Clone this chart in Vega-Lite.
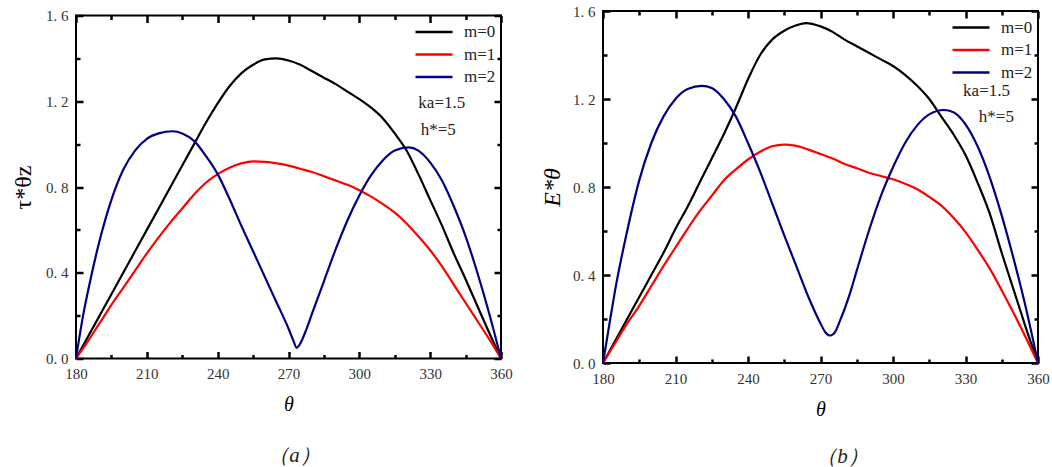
{
  "$schema": "https://vega.github.io/schema/vega-lite/v6.json",
  "background": "white",
  "padding": {"left": 10, "top": 3, "right": 5, "bottom": 0},
  "bounds": "flush",
  "center": true,
  "spacing": 102,
  "config": {
    "view": {"stroke": "black", "strokeWidth": 2},
    "axis": {
      "grid": false,
      "domain": false,
      "ticks": true,
      "zindex": 1,
      "tickColor": "#000000",
      "tickWidth": 2.5,
      "tickOpacity": 1,
      "labelFlush": false,
      "labelFont": "Times New Roman, Liberation Serif, DejaVu Serif, serif",
      "labelFontSize": 15,
      "labelColor": "#333333",
      "titleFont": "Times New Roman, Liberation Serif, DejaVu Serif, serif",
      "titleFontWeight": "normal",
      "titleColor": "black"
    },
    "legend": {
      "orient": "top-right",
      "offset": 5,
      "padding": 0,
      "symbolType": "M-1,0L2.7,0",
      "symbolSize": 400,
      "symbolStrokeWidth": 2.5,
      "labelFont": "Times New Roman, Liberation Serif, DejaVu Serif, serif",
      "labelFontSize": 17,
      "labelColor": "#222222",
      "labelOffset": 27,
      "rowPadding": 2.5
    },
    "title": {"font": "Times New Roman, Liberation Serif, DejaVu Serif, serif", "fontSize": 21, "fontWeight": "normal", "color": "#222222"}
  },
  "datasets": {
    "curves": [
      {"p": "a", "m": "m=0", "t": 180, "v": 0}, {"p": "a", "m": "m=0", "t": 185, "v": 0.1}, {"p": "a", "m": "m=0", "t": 190, "v": 0.2}, {"p": "a", "m": "m=0", "t": 195, "v": 0.3}, {"p": "a", "m": "m=0", "t": 200, "v": 0.4}, {"p": "a", "m": "m=0", "t": 205, "v": 0.5}, {"p": "a", "m": "m=0", "t": 210, "v": 0.6}, {"p": "a", "m": "m=0", "t": 215, "v": 0.7}, {"p": "a", "m": "m=0", "t": 220, "v": 0.8}, {"p": "a", "m": "m=0", "t": 225, "v": 0.9}, {"p": "a", "m": "m=0", "t": 230, "v": 1.0}, {"p": "a", "m": "m=0", "t": 235, "v": 1.1}, {"p": "a", "m": "m=0", "t": 240, "v": 1.19}, {"p": "a", "m": "m=0", "t": 245, "v": 1.27}, {"p": "a", "m": "m=0", "t": 250, "v": 1.33}, {"p": "a", "m": "m=0", "t": 255, "v": 1.37}, {"p": "a", "m": "m=0", "t": 260, "v": 1.395}, {"p": "a", "m": "m=0", "t": 265, "v": 1.4}, {"p": "a", "m": "m=0", "t": 270, "v": 1.39}, {"p": "a", "m": "m=0", "t": 275, "v": 1.37}, {"p": "a", "m": "m=0", "t": 280, "v": 1.34}, {"p": "a", "m": "m=0", "t": 285, "v": 1.31}, {"p": "a", "m": "m=0", "t": 290, "v": 1.28}, {"p": "a", "m": "m=0", "t": 295, "v": 1.245}, {"p": "a", "m": "m=0", "t": 300, "v": 1.21}, {"p": "a", "m": "m=0", "t": 305, "v": 1.17}, {"p": "a", "m": "m=0", "t": 310, "v": 1.12}, {"p": "a", "m": "m=0", "t": 315, "v": 1.05}, {"p": "a", "m": "m=0", "t": 320, "v": 0.97}, {"p": "a", "m": "m=0", "t": 325, "v": 0.86}, {"p": "a", "m": "m=0", "t": 330, "v": 0.74}, {"p": "a", "m": "m=0", "t": 335, "v": 0.62}, {"p": "a", "m": "m=0", "t": 340, "v": 0.49}, {"p": "a", "m": "m=0", "t": 345, "v": 0.37}, {"p": "a", "m": "m=0", "t": 350, "v": 0.245}, {"p": "a", "m": "m=0", "t": 355, "v": 0.12}, {"p": "a", "m": "m=0", "t": 360, "v": 0},
      {"p": "a", "m": "m=1", "t": 180, "v": 0}, {"p": "a", "m": "m=1", "t": 185, "v": 0.08}, {"p": "a", "m": "m=1", "t": 190, "v": 0.165}, {"p": "a", "m": "m=1", "t": 195, "v": 0.25}, {"p": "a", "m": "m=1", "t": 200, "v": 0.33}, {"p": "a", "m": "m=1", "t": 205, "v": 0.41}, {"p": "a", "m": "m=1", "t": 210, "v": 0.49}, {"p": "a", "m": "m=1", "t": 215, "v": 0.565}, {"p": "a", "m": "m=1", "t": 220, "v": 0.635}, {"p": "a", "m": "m=1", "t": 225, "v": 0.7}, {"p": "a", "m": "m=1", "t": 230, "v": 0.765}, {"p": "a", "m": "m=1", "t": 235, "v": 0.82}, {"p": "a", "m": "m=1", "t": 240, "v": 0.86}, {"p": "a", "m": "m=1", "t": 245, "v": 0.89}, {"p": "a", "m": "m=1", "t": 250, "v": 0.91}, {"p": "a", "m": "m=1", "t": 255, "v": 0.92}, {"p": "a", "m": "m=1", "t": 260, "v": 0.917}, {"p": "a", "m": "m=1", "t": 265, "v": 0.91}, {"p": "a", "m": "m=1", "t": 270, "v": 0.9}, {"p": "a", "m": "m=1", "t": 275, "v": 0.885}, {"p": "a", "m": "m=1", "t": 280, "v": 0.87}, {"p": "a", "m": "m=1", "t": 285, "v": 0.85}, {"p": "a", "m": "m=1", "t": 290, "v": 0.83}, {"p": "a", "m": "m=1", "t": 295, "v": 0.81}, {"p": "a", "m": "m=1", "t": 300, "v": 0.785}, {"p": "a", "m": "m=1", "t": 305, "v": 0.755}, {"p": "a", "m": "m=1", "t": 310, "v": 0.72}, {"p": "a", "m": "m=1", "t": 315, "v": 0.68}, {"p": "a", "m": "m=1", "t": 320, "v": 0.63}, {"p": "a", "m": "m=1", "t": 325, "v": 0.57}, {"p": "a", "m": "m=1", "t": 330, "v": 0.505}, {"p": "a", "m": "m=1", "t": 335, "v": 0.43}, {"p": "a", "m": "m=1", "t": 340, "v": 0.345}, {"p": "a", "m": "m=1", "t": 345, "v": 0.26}, {"p": "a", "m": "m=1", "t": 350, "v": 0.175}, {"p": "a", "m": "m=1", "t": 355, "v": 0.09}, {"p": "a", "m": "m=1", "t": 360, "v": 0},
      {"p": "a", "m": "m=2", "t": 180, "v": 0}, {"p": "a", "m": "m=2", "t": 183, "v": 0.2}, {"p": "a", "m": "m=2", "t": 185, "v": 0.31}, {"p": "a", "m": "m=2", "t": 190, "v": 0.55}, {"p": "a", "m": "m=2", "t": 195, "v": 0.74}, {"p": "a", "m": "m=2", "t": 200, "v": 0.88}, {"p": "a", "m": "m=2", "t": 205, "v": 0.97}, {"p": "a", "m": "m=2", "t": 210, "v": 1.025}, {"p": "a", "m": "m=2", "t": 215, "v": 1.05}, {"p": "a", "m": "m=2", "t": 221, "v": 1.06}, {"p": "a", "m": "m=2", "t": 225, "v": 1.05}, {"p": "a", "m": "m=2", "t": 230, "v": 1.015}, {"p": "a", "m": "m=2", "t": 235, "v": 0.945}, {"p": "a", "m": "m=2", "t": 240, "v": 0.86}, {"p": "a", "m": "m=2", "t": 245, "v": 0.745}, {"p": "a", "m": "m=2", "t": 250, "v": 0.62}, {"p": "a", "m": "m=2", "t": 255, "v": 0.5}, {"p": "a", "m": "m=2", "t": 260, "v": 0.38}, {"p": "a", "m": "m=2", "t": 265, "v": 0.26}, {"p": "a", "m": "m=2", "t": 270, "v": 0.14}, {"p": "a", "m": "m=2", "t": 272, "v": 0.085}, {"p": "a", "m": "m=2", "t": 273.5, "v": 0.05}, {"p": "a", "m": "m=2", "t": 275, "v": 0.07}, {"p": "a", "m": "m=2", "t": 277, "v": 0.12}, {"p": "a", "m": "m=2", "t": 280, "v": 0.21}, {"p": "a", "m": "m=2", "t": 285, "v": 0.36}, {"p": "a", "m": "m=2", "t": 290, "v": 0.51}, {"p": "a", "m": "m=2", "t": 295, "v": 0.645}, {"p": "a", "m": "m=2", "t": 300, "v": 0.76}, {"p": "a", "m": "m=2", "t": 305, "v": 0.855}, {"p": "a", "m": "m=2", "t": 310, "v": 0.925}, {"p": "a", "m": "m=2", "t": 315, "v": 0.97}, {"p": "a", "m": "m=2", "t": 321, "v": 0.985}, {"p": "a", "m": "m=2", "t": 325, "v": 0.97}, {"p": "a", "m": "m=2", "t": 330, "v": 0.915}, {"p": "a", "m": "m=2", "t": 335, "v": 0.83}, {"p": "a", "m": "m=2", "t": 340, "v": 0.71}, {"p": "a", "m": "m=2", "t": 345, "v": 0.57}, {"p": "a", "m": "m=2", "t": 350, "v": 0.4}, {"p": "a", "m": "m=2", "t": 355, "v": 0.21}, {"p": "a", "m": "m=2", "t": 360, "v": 0},
      {"p": "b", "m": "m=0", "t": 180, "v": 0}, {"p": "b", "m": "m=0", "t": 185, "v": 0.1}, {"p": "b", "m": "m=0", "t": 190, "v": 0.2}, {"p": "b", "m": "m=0", "t": 195, "v": 0.3}, {"p": "b", "m": "m=0", "t": 200, "v": 0.4}, {"p": "b", "m": "m=0", "t": 205, "v": 0.5}, {"p": "b", "m": "m=0", "t": 210, "v": 0.61}, {"p": "b", "m": "m=0", "t": 215, "v": 0.71}, {"p": "b", "m": "m=0", "t": 220, "v": 0.82}, {"p": "b", "m": "m=0", "t": 225, "v": 0.93}, {"p": "b", "m": "m=0", "t": 230, "v": 1.04}, {"p": "b", "m": "m=0", "t": 235, "v": 1.16}, {"p": "b", "m": "m=0", "t": 240, "v": 1.29}, {"p": "b", "m": "m=0", "t": 245, "v": 1.4}, {"p": "b", "m": "m=0", "t": 250, "v": 1.47}, {"p": "b", "m": "m=0", "t": 255, "v": 1.51}, {"p": "b", "m": "m=0", "t": 260, "v": 1.535}, {"p": "b", "m": "m=0", "t": 264, "v": 1.545}, {"p": "b", "m": "m=0", "t": 270, "v": 1.53}, {"p": "b", "m": "m=0", "t": 275, "v": 1.505}, {"p": "b", "m": "m=0", "t": 280, "v": 1.47}, {"p": "b", "m": "m=0", "t": 285, "v": 1.44}, {"p": "b", "m": "m=0", "t": 290, "v": 1.41}, {"p": "b", "m": "m=0", "t": 295, "v": 1.38}, {"p": "b", "m": "m=0", "t": 300, "v": 1.35}, {"p": "b", "m": "m=0", "t": 305, "v": 1.31}, {"p": "b", "m": "m=0", "t": 310, "v": 1.26}, {"p": "b", "m": "m=0", "t": 315, "v": 1.2}, {"p": "b", "m": "m=0", "t": 320, "v": 1.12}, {"p": "b", "m": "m=0", "t": 325, "v": 1.04}, {"p": "b", "m": "m=0", "t": 330, "v": 0.945}, {"p": "b", "m": "m=0", "t": 335, "v": 0.82}, {"p": "b", "m": "m=0", "t": 340, "v": 0.68}, {"p": "b", "m": "m=0", "t": 345, "v": 0.5}, {"p": "b", "m": "m=0", "t": 350, "v": 0.33}, {"p": "b", "m": "m=0", "t": 355, "v": 0.16}, {"p": "b", "m": "m=0", "t": 360, "v": 0},
      {"p": "b", "m": "m=1", "t": 180, "v": 0}, {"p": "b", "m": "m=1", "t": 185, "v": 0.09}, {"p": "b", "m": "m=1", "t": 190, "v": 0.18}, {"p": "b", "m": "m=1", "t": 195, "v": 0.26}, {"p": "b", "m": "m=1", "t": 200, "v": 0.35}, {"p": "b", "m": "m=1", "t": 205, "v": 0.44}, {"p": "b", "m": "m=1", "t": 210, "v": 0.525}, {"p": "b", "m": "m=1", "t": 215, "v": 0.61}, {"p": "b", "m": "m=1", "t": 220, "v": 0.69}, {"p": "b", "m": "m=1", "t": 225, "v": 0.76}, {"p": "b", "m": "m=1", "t": 230, "v": 0.83}, {"p": "b", "m": "m=1", "t": 235, "v": 0.88}, {"p": "b", "m": "m=1", "t": 240, "v": 0.925}, {"p": "b", "m": "m=1", "t": 245, "v": 0.96}, {"p": "b", "m": "m=1", "t": 250, "v": 0.985}, {"p": "b", "m": "m=1", "t": 255, "v": 0.993}, {"p": "b", "m": "m=1", "t": 260, "v": 0.987}, {"p": "b", "m": "m=1", "t": 265, "v": 0.97}, {"p": "b", "m": "m=1", "t": 270, "v": 0.95}, {"p": "b", "m": "m=1", "t": 275, "v": 0.93}, {"p": "b", "m": "m=1", "t": 280, "v": 0.905}, {"p": "b", "m": "m=1", "t": 285, "v": 0.885}, {"p": "b", "m": "m=1", "t": 290, "v": 0.865}, {"p": "b", "m": "m=1", "t": 295, "v": 0.85}, {"p": "b", "m": "m=1", "t": 300, "v": 0.835}, {"p": "b", "m": "m=1", "t": 305, "v": 0.815}, {"p": "b", "m": "m=1", "t": 310, "v": 0.79}, {"p": "b", "m": "m=1", "t": 315, "v": 0.755}, {"p": "b", "m": "m=1", "t": 320, "v": 0.715}, {"p": "b", "m": "m=1", "t": 325, "v": 0.66}, {"p": "b", "m": "m=1", "t": 330, "v": 0.595}, {"p": "b", "m": "m=1", "t": 335, "v": 0.515}, {"p": "b", "m": "m=1", "t": 340, "v": 0.43}, {"p": "b", "m": "m=1", "t": 345, "v": 0.33}, {"p": "b", "m": "m=1", "t": 350, "v": 0.225}, {"p": "b", "m": "m=1", "t": 355, "v": 0.115}, {"p": "b", "m": "m=1", "t": 360, "v": 0},
      {"p": "b", "m": "m=2", "t": 180, "v": 0}, {"p": "b", "m": "m=2", "t": 183, "v": 0.2}, {"p": "b", "m": "m=2", "t": 185, "v": 0.33}, {"p": "b", "m": "m=2", "t": 190, "v": 0.6}, {"p": "b", "m": "m=2", "t": 195, "v": 0.83}, {"p": "b", "m": "m=2", "t": 200, "v": 1.0}, {"p": "b", "m": "m=2", "t": 205, "v": 1.12}, {"p": "b", "m": "m=2", "t": 210, "v": 1.2}, {"p": "b", "m": "m=2", "t": 215, "v": 1.245}, {"p": "b", "m": "m=2", "t": 221, "v": 1.26}, {"p": "b", "m": "m=2", "t": 225, "v": 1.25}, {"p": "b", "m": "m=2", "t": 230, "v": 1.2}, {"p": "b", "m": "m=2", "t": 235, "v": 1.12}, {"p": "b", "m": "m=2", "t": 240, "v": 1.0}, {"p": "b", "m": "m=2", "t": 245, "v": 0.87}, {"p": "b", "m": "m=2", "t": 250, "v": 0.725}, {"p": "b", "m": "m=2", "t": 255, "v": 0.58}, {"p": "b", "m": "m=2", "t": 260, "v": 0.44}, {"p": "b", "m": "m=2", "t": 265, "v": 0.3}, {"p": "b", "m": "m=2", "t": 270, "v": 0.18}, {"p": "b", "m": "m=2", "t": 272, "v": 0.14}, {"p": "b", "m": "m=2", "t": 274, "v": 0.125}, {"p": "b", "m": "m=2", "t": 276, "v": 0.14}, {"p": "b", "m": "m=2", "t": 278, "v": 0.19}, {"p": "b", "m": "m=2", "t": 282, "v": 0.31}, {"p": "b", "m": "m=2", "t": 285, "v": 0.42}, {"p": "b", "m": "m=2", "t": 290, "v": 0.6}, {"p": "b", "m": "m=2", "t": 295, "v": 0.76}, {"p": "b", "m": "m=2", "t": 300, "v": 0.89}, {"p": "b", "m": "m=2", "t": 305, "v": 1.0}, {"p": "b", "m": "m=2", "t": 310, "v": 1.08}, {"p": "b", "m": "m=2", "t": 315, "v": 1.13}, {"p": "b", "m": "m=2", "t": 321, "v": 1.15}, {"p": "b", "m": "m=2", "t": 325, "v": 1.14}, {"p": "b", "m": "m=2", "t": 330, "v": 1.085}, {"p": "b", "m": "m=2", "t": 335, "v": 0.985}, {"p": "b", "m": "m=2", "t": 340, "v": 0.845}, {"p": "b", "m": "m=2", "t": 345, "v": 0.67}, {"p": "b", "m": "m=2", "t": 350, "v": 0.47}, {"p": "b", "m": "m=2", "t": 355, "v": 0.25}, {"p": "b", "m": "m=2", "t": 360, "v": 0}
    ],
    "notes": [
      {"p": "a", "x": 325, "y": 1.194, "txt": "ka=1.5"},
      {"p": "a", "x": 326, "y": 1.068, "txt": "h*=5"},
      {"p": "b", "x": 329, "y": 1.236, "txt": "ka=1.5"},
      {"p": "b", "x": 335.5, "y": 1.118, "txt": "h*=5"}
    ]
  },
  "resolve": {"legend": {"color": "independent"}},
  "hconcat": [
    {
      "width": 425,
      "height": 343,
      "title": {"text": "（a）", "orient": "bottom", "offset": 30, "dx": 6, "fontStyle": "italic"},
      "layer": [
        {
          "data": {"name": "notes"},
          "transform": [{"filter": "datum.p == 'a'"}],
          "mark": {"type": "point", "opacity": 0},
          "encoding": {
            "x": {"field": "x", "type": "quantitative", "scale": {"domain": [180, 360], "nice": false},
              "axis": {"orient": "bottom", "title": null, "labels": false, "tickSize": 4, "offset": -4, "values": [195, 225, 255, 285, 315, 345]}},
            "y": {"field": "y", "type": "quantitative", "scale": {"domain": [0, 1.6], "nice": false},
              "axis": {"orient": "left", "title": null, "labels": false, "tickSize": 4, "offset": -4, "values": [0.2, 0.6, 1.0, 1.4]}}
          }
        },
        {
          "data": {"name": "notes"},
          "transform": [{"filter": "datum.p == 'a'"}],
          "mark": {"type": "point", "opacity": 0},
          "encoding": {
            "x": {"field": "x", "type": "quantitative", "scale": {"domain": [180, 360], "nice": false},
              "axis": {"orient": "top", "title": null, "labels": false, "tickSize": 4, "offset": -4, "values": [195, 225, 255, 285, 315, 345]}},
            "y": {"field": "y", "type": "quantitative", "scale": {"domain": [0, 1.6], "nice": false},
              "axis": {"orient": "right", "title": null, "labels": false, "tickSize": 4, "offset": -4, "values": [0.2, 0.6, 1.0, 1.4]}}
          }
        },
        {
          "data": {"name": "curves"},
          "transform": [{"filter": "datum.p == 'a'"}],
          "mark": {"type": "line", "strokeWidth": 2.2, "interpolate": "monotone"},
          "encoding": {
            "x": {"field": "t", "type": "quantitative", "scale": {"domain": [180, 360], "nice": false},
              "axis": {"orient": "bottom", "title": "θ", "titleFontSize": 20, "titleFontStyle": "italic", "titlePadding": 13,
                "values": [180, 210, 240, 270, 300, 330, 360], "tickSize": 7, "offset": -7, "labelPadding": 8}},
            "y": {"field": "v", "type": "quantitative", "scale": {"domain": [0, 1.6], "nice": false},
              "axis": {"orient": "left", "title": "τ*θz", "titleFontSize": 24, "titlePadding": 10,
                "values": [0, 0.4, 0.8, 1.2, 1.6], "labelExpr": "replace(format(datum.value, '.1f'), '.', '. ')", "tickSize": 7, "offset": -7, "labelPadding": 8}},
            "color": {"field": "m", "type": "nominal", "title": null,
              "scale": {"domain": ["m=0", "m=1", "m=2"], "range": ["#000000", "#ff0000", "#000080"]}}
          }
        },
        {
          "data": {"name": "notes"},
          "transform": [{"filter": "datum.p == 'a'"}],
          "mark": {"type": "text", "align": "left", "baseline": "middle", "font": "Times New Roman, Liberation Serif, DejaVu Serif, serif", "fontSize": 17, "color": "#222222"},
          "encoding": {
            "x": {"field": "x", "type": "quantitative", "scale": {"domain": [180, 360], "nice": false},
              "axis": {"orient": "top", "title": null, "labels": false, "values": [180, 210, 240, 270, 300, 330, 360], "tickSize": 7, "offset": -7}},
            "y": {"field": "y", "type": "quantitative", "scale": {"domain": [0, 1.6], "nice": false},
              "axis": {"orient": "right", "title": null, "labels": false, "values": [0, 0.4, 0.8, 1.2, 1.6], "tickSize": 7, "offset": -7}},
            "text": {"field": "txt"}
          }
        }
      ],
      "resolve": {"axis": {"x": "independent", "y": "independent"}}
    },
    {
      "width": 435,
      "height": 352,
      "title": {"text": "（b）", "orient": "bottom", "offset": 27, "dx": 22, "fontStyle": "italic"},
      "layer": [
        {
          "data": {"name": "notes"},
          "transform": [{"filter": "datum.p == 'b'"}],
          "mark": {"type": "point", "opacity": 0},
          "encoding": {
            "x": {"field": "x", "type": "quantitative", "scale": {"domain": [180, 360], "nice": false},
              "axis": {"orient": "bottom", "title": null, "labels": false, "tickSize": 4, "offset": -4, "values": [195, 225, 255, 285, 315, 345]}},
            "y": {"field": "y", "type": "quantitative", "scale": {"domain": [0, 1.6], "nice": false},
              "axis": {"orient": "left", "title": null, "labels": false, "tickSize": 4, "offset": -4, "values": [0.2, 0.6, 1.0, 1.4]}}
          }
        },
        {
          "data": {"name": "notes"},
          "transform": [{"filter": "datum.p == 'b'"}],
          "mark": {"type": "point", "opacity": 0},
          "encoding": {
            "x": {"field": "x", "type": "quantitative", "scale": {"domain": [180, 360], "nice": false},
              "axis": {"orient": "top", "title": null, "labels": false, "tickSize": 4, "offset": -4, "values": [195, 225, 255, 285, 315, 345]}},
            "y": {"field": "y", "type": "quantitative", "scale": {"domain": [0, 1.6], "nice": false},
              "axis": {"orient": "right", "title": null, "labels": false, "tickSize": 4, "offset": -4, "values": [0.2, 0.6, 1.0, 1.4]}}
          }
        },
        {
          "data": {"name": "curves"},
          "transform": [{"filter": "datum.p == 'b'"}],
          "mark": {"type": "line", "strokeWidth": 2.2, "interpolate": "monotone"},
          "encoding": {
            "x": {"field": "t", "type": "quantitative", "scale": {"domain": [180, 360], "nice": false},
              "axis": {"orient": "bottom", "title": "θ", "titleFontSize": 20, "titleFontStyle": "italic", "titlePadding": 13,
                "values": [180, 210, 240, 270, 300, 330, 360], "tickSize": 7, "offset": -7, "labelPadding": 8}},
            "y": {"field": "v", "type": "quantitative", "scale": {"domain": [0, 1.6], "nice": false},
              "axis": {"orient": "left", "title": "E*θ", "titleFontSize": 24, "titleFontStyle": "italic", "titlePadding": 8,
                "values": [0, 0.4, 0.8, 1.2, 1.6], "labelExpr": "replace(format(datum.value, '.1f'), '.', '. ')", "tickSize": 7, "offset": -7, "labelPadding": 8}},
            "color": {"field": "m", "type": "nominal", "title": null,
              "scale": {"domain": ["m=0", "m=1", "m=2"], "range": ["#000000", "#ff0000", "#000080"]}}
          }
        },
        {
          "data": {"name": "notes"},
          "transform": [{"filter": "datum.p == 'b'"}],
          "mark": {"type": "text", "align": "left", "baseline": "middle", "font": "Times New Roman, Liberation Serif, DejaVu Serif, serif", "fontSize": 17, "color": "#222222"},
          "encoding": {
            "x": {"field": "x", "type": "quantitative", "scale": {"domain": [180, 360], "nice": false},
              "axis": {"orient": "top", "title": null, "labels": false, "values": [180, 210, 240, 270, 300, 330, 360], "tickSize": 7, "offset": -7}},
            "y": {"field": "y", "type": "quantitative", "scale": {"domain": [0, 1.6], "nice": false},
              "axis": {"orient": "right", "title": null, "labels": false, "values": [0, 0.4, 0.8, 1.2, 1.6], "tickSize": 7, "offset": -7}},
            "text": {"field": "txt"}
          }
        }
      ],
      "resolve": {"axis": {"x": "independent", "y": "independent"}}
    }
  ]
}
